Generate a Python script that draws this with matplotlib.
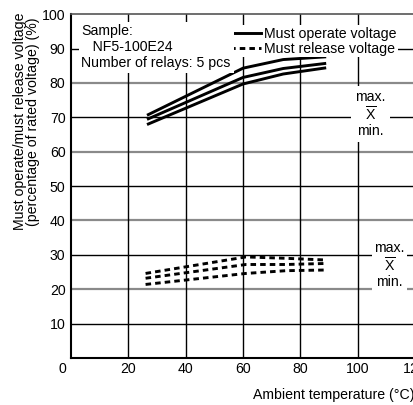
import matplotlib
matplotlib.use('Agg')
import matplotlib.pyplot as plt
from matplotlib.lines import Line2D

plt.rcParams['font.family'] = ['Liberation Sans', 'DejaVu Sans']
plt.rcParams['mathtext.fontset'] = 'custom'
plt.rcParams['mathtext.rm'] = 'Liberation Sans'

# must operate voltage (max / mean / min), % of rated voltage
op_temp = [26.5, 60, 74, 89]
op_max = [70.6, 84.3, 86.8, 87.6]
op_mean = [69.4, 81.6, 84.2, 85.7]
op_min = [67.9, 79.7, 82.6, 84.4]

# must release voltage (max / mean / min)
rel_temp = [26, 61, 75, 89]
rel_max = [24.6, 29.4, 29.0, 28.5]
rel_mean = [23.2, 27.2, 27.2, 27.5]
rel_min = [21.4, 24.6, 25.4, 25.6]

x_ticks = [20, 40, 60, 80, 100, 120]
y_ticks = [10, 20, 30, 40, 50, 60, 70, 80, 90, 100]
y_black = [10, 30, 50, 70, 90]
y_gray = [20, 40, 60, 80]
x_black = [20, 40, 60, 80, 100]

fs = 10.2

fig = plt.figure(figsize=(4.13, 4.05), dpi=100)
ax = fig.add_axes([0.172, 0.116, 0.833, 0.849])
ax.set_xlim(0, 120)
ax.set_ylim(0, 100)

for y in y_black:
    ax.axhline(y, color='black', lw=1.0, zorder=1)
for y in y_gray:
    ax.axhline(y, color='#8a8a8a', lw=1.6, zorder=1)
for x in x_black:
    ax.axvline(x, color='black', lw=1.0, zorder=1)

lw = 2.1
for vals in (op_max, op_mean, op_min):
    ax.plot(op_temp, vals, color='black', lw=lw, solid_capstyle='butt', zorder=3)
dash = (1.9, 1.4)
for vals in (rel_max, rel_mean, rel_min):
    ax.plot(rel_temp, vals, color='black', lw=lw, dashes=dash, zorder=3)

ax.spines['left'].set_linewidth(1.5)
ax.spines['bottom'].set_linewidth(1.5)
ax.spines['top'].set_color('#555555')
ax.spines['top'].set_linewidth(1.2)
ax.spines['right'].set_visible(False)

ax.set_xticks(x_ticks)
ax.set_yticks(y_ticks)
ax.tick_params(length=0, labelsize=fs, colors='black')
ax.tick_params(axis='x', pad=3)
ax.tick_params(axis='y', pad=4)
ax.text(-0.025, -0.013, '0', transform=ax.transAxes, ha='center', va='top', fontsize=fs)

fig.text(0.613, 0.025, 'Ambient temperature (\u00b0C)', ha='left', va='center', fontsize=fs)
fig.text(0.064, 0.70, 'Must operate/must release voltage\n(percentage of rated voltage) (%)',
         rotation=90, ha='center', va='center', fontsize=fs, multialignment='center',
         linespacing=0.92)

ax.text(0.03, 0.97, 'Sample:\n   NF5-100E24\nNumber of relays: 5 pcs', transform=ax.transAxes,
        ha='left', va='top', fontsize=fs, linespacing=1.15, zorder=6,
        bbox=dict(facecolor='white', edgecolor='none', pad=2))

handles = [Line2D([], [], color='black', lw=lw),
           Line2D([], [], color='black', lw=lw, dashes=dash)]
leg = ax.legend(handles, ['Must operate voltage', 'Must release voltage'],
                loc='upper left', bbox_to_anchor=(0.43, 0.968), fontsize=fs,
                frameon=True, fancybox=False, framealpha=1, edgecolor='none',
                handlelength=2.9, handletextpad=0.2, borderpad=0.1,
                labelspacing=0.1, borderaxespad=0)
leg.set_zorder(5)

ax.text(104.5, 71, 'max.\n$\\overline{\\mathrm{X}}$\nmin.', ha='center', va='center',
        fontsize=fs, linespacing=1.05, zorder=4,
        bbox=dict(facecolor='white', edgecolor='none', pad=3))
ax.text(111, 27, 'max.\n$\\overline{\\mathrm{X}}$\nmin.', ha='center', va='center',
        fontsize=fs, linespacing=1.05, zorder=4,
        bbox=dict(facecolor='white', edgecolor='none', pad=1.5))

fig.savefig('out.png', dpi=100)
